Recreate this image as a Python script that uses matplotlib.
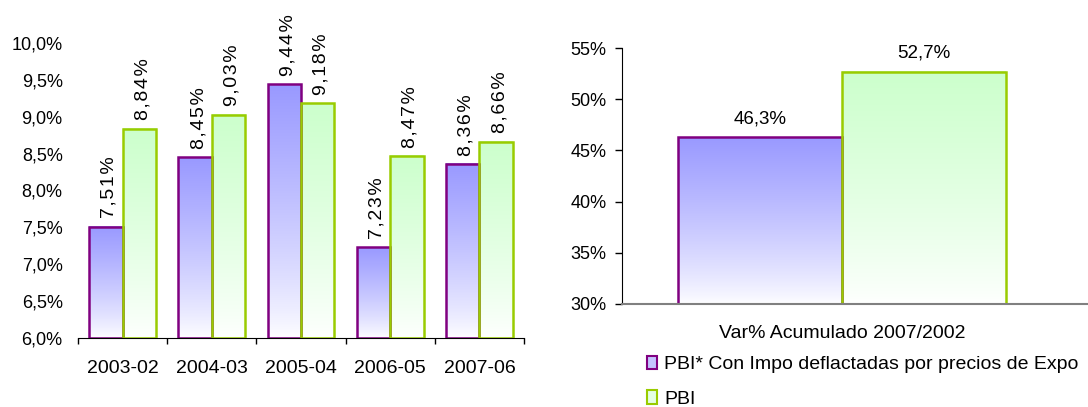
import numpy as np
import matplotlib
matplotlib.use('Agg')
import matplotlib.pyplot as plt
from matplotlib.patches import Patch

plt.rcParams['font.family'] = ['Liberation Sans', 'DejaVu Sans']
plt.rcParams['font.size'] = 13

# data
periods = ['2003-02', '2004-03', '2005-04', '2006-05', '2007-06']
pbi_impo = [0.0751, 0.0845, 0.0944, 0.0723, 0.0836]
pbi = [0.0884, 0.0903, 0.0918, 0.0847, 0.0866]
acum_label = 'Var% Acumulado 2007/2002'
acum_impo = 0.463
acum_pbi = 0.527
series_names = ['PBI* Con Impo deflactadas por precios de Expo', 'PBI']

purple_top = np.array([153, 153, 255]) / 255.0
green_top = np.array([204, 255, 204]) / 255.0
purple_edge = '#800080'
green_edge = '#99CC00'


def gradient_bars(ax, xs, heights, width, base, top_rgb, edge):
    bars = ax.bar(xs, np.array(heights) - base, width, bottom=base,
                  facecolor='none', edgecolor=edge, linewidth=1.8, zorder=3)
    t = np.linspace(1.0, 0.0, 256)[:, None] ** 0.8
    img = t * top_rgb[None, :] + (1 - t) * np.array([1.0, 1.0, 1.0])[None, :]
    img = img[:, None, :]
    for b in bars:
        x0, y0 = b.get_x(), b.get_y()
        ax.imshow(img, extent=(x0, x0 + b.get_width(), y0, y0 + b.get_height()),
                  aspect='auto', zorder=2, interpolation='bilinear')
    return bars


def pct1(v):
    return ('%.1f%%' % (v * 100)).replace('.', ',')


W, H = 1088.0, 407.0
fig = plt.figure(figsize=(10.88, 4.07), dpi=100)

###############################
# left chart
ax1 = fig.add_axes([78 / W, (H - 338) / H, 446 / W, 295 / H])
idx = np.arange(len(periods))
bw = 0.375
gradient_bars(ax1, idx - bw / 2, pbi_impo, bw, 0.06, purple_top, purple_edge)
gradient_bars(ax1, idx + bw / 2, pbi, bw, 0.06, green_top, green_edge)
ax1.set_xlim(-0.5, len(periods) - 0.5)
ax1.set_ylim(0.06, 0.10)
yt = np.arange(0.06, 0.1001, 0.005)
ax1.set_yticks(yt)
ax1.set_yticklabels([pct1(v) for v in yt])
ax1.set_xticks(idx)
ax1.set_xticklabels(periods, fontsize=14)
ax1.set_xticks(np.arange(-0.5, len(periods)), minor=True)
ax1.tick_params(axis='x', which='major', length=0, pad=16)
ax1.tick_params(axis='x', which='minor', length=4.5, width=1, direction='out')
ax1.tick_params(axis='y', length=0, pad=11)
for s in ['left', 'top', 'right']:
    ax1.spines[s].set_visible(False)
ax1.spines['bottom'].set_color('black')
ax1.spines['bottom'].set_zorder(4)

hair = '\u200a'
for xs, vals in [(idx - bw / 2, pbi_impo), (idx + bw / 2, pbi)]:
    for x, v in zip(xs, vals):
        txt = hair.join(('%.2f%%' % (v * 100)).replace('.', ','))
        ax1.annotate(txt, (x, v), xytext=(2.5, 6), textcoords='offset points',
                     rotation=90, ha='center', va='bottom', fontsize=14)

###############################
# right chart
ax2 = fig.add_axes([622 / W, (H - 304) / H, (W - 622) / W, 256 / H])
gradient_bars(ax2, [-0.5], [acum_impo], 1.0, 0.30, purple_top, purple_edge)
gradient_bars(ax2, [0.5], [acum_pbi], 1.0, 0.30, green_top, green_edge)
ax2.set_xlim(-220 / 164.0, 246 / 164.0)
ax2.set_ylim(0.30, 0.55)
yt2 = np.arange(0.30, 0.5501, 0.05)
ax2.set_yticks(yt2)
ax2.set_yticklabels(['%.0f%%' % (v * 100) for v in yt2])
ax2.set_xticks([0])
ax2.set_xticklabels([acum_label], fontsize=14)
ax2.tick_params(axis='x', length=0, pad=15)
ax2.tick_params(axis='y', length=5, width=1, direction='out', pad=6)
for s in ['top', 'right']:
    ax2.spines[s].set_visible(False)
ax2.spines['left'].set_color('black')
ax2.spines['bottom'].set_color('#808080')
ax2.spines['bottom'].set_linewidth(1.5)
ax2.spines['bottom'].set_zorder(4)
for x, v in [(-0.5, acum_impo), (0.5, acum_pbi)]:
    ax2.annotate(pct1(v), (x, v), xytext=(0, 7), textcoords='offset points',
                 ha='center', va='bottom', fontsize=13.5)

handles = [Patch(facecolor='#C4C4FF', edgecolor=purple_edge, linewidth=1.5),
           Patch(facecolor='#E4FFE4', edgecolor=green_edge, linewidth=1.5)]
fig.legend(handles, series_names, loc='upper left',
           bbox_to_anchor=(647 / W, (H - 356) / H), frameon=False,
           fontsize=14, handlelength=0.52, handleheight=0.68,
           handletextpad=0.36, labelspacing=0.87, borderpad=0,
           borderaxespad=0)

plt.savefig('out.png', dpi=100)
